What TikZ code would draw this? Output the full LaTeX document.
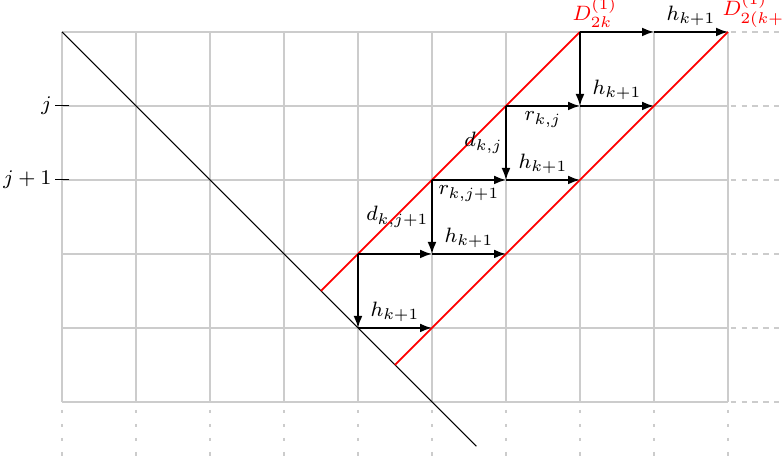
\documentclass[tikz,border=0pt]{standalone}
\usepackage{amsmath,amssymb}
\usepackage{xcolor}
\usetikzlibrary{arrows.meta,positioning,calc}

\begin{document}
\begin{tikzpicture}[
  >={Latex[length=4.6pt, width=3.4pt]},
  font=\footnotesize,
  grid/.style={black!20, line width=0.5pt},
  hext/.style={black!20, line width=0.5pt, dash pattern=on 2pt off 2.2pt, dash phase=-1pt},
  vext/.style={black!20, line width=0.5pt, dash pattern=on 1.4pt off 4pt, dash phase=-3pt},
  diag/.style={red, line width=0.7pt},
  arrow/.style={->, line width=0.65pt},
  every node/.style={inner sep=2pt}
]
\useasboundingbox (-0.838,-0.919) rectangle (9.730,5.432);
% lattice points
\foreach \x in {0,...,9}
  \foreach \y in {0,...,5}
    \coordinate (g\x\y) at (\x,\y);
% grid and its dashed continuation
\draw[grid] (0,0) grid (9,5);
\foreach \x in {0,...,9}
  \draw[vext] (g\x0) -- ++(0,-0.82);
\foreach \y in {0,...,5}
  \draw[hext] (g9\y) -- ++(0.75,0);
% row ticks
\draw (0.1,4) -- (-0.1,4) node[left, inner sep=1pt] (rj) {$j$};
\draw (0.1,3) -- (-0.1,3) node[left, inner sep=1pt] (rj1) {$j+1$};
% anti-diagonal
\draw (g05) -- (5.6,-0.6);
% red diagonals
\draw[diag] (3.5,1.5) -- (g75);
\draw[diag] (4.5,0.5) -- (g95);
\node[anchor=south west, inner sep=1.5pt, xshift=-4.5pt, text=red] (d1) at (g75) {$D^{(1)}_{2k}$};
\node[anchor=south west, inner sep=1.5pt, xshift=-3.8pt, text=red] (d2) at (g95) {$D^{(1)}_{2(k+1)}$};
% staircase
\draw[arrow] (g42) -- (g41);
\draw[arrow] (g41) -- node[above] {$h_{k+1}$} (g51);
\draw[arrow] (g42) -- (g52);
\draw[arrow] (g52) -- node[above] {$h_{k+1}$} (g62);
\draw[arrow] (g53) -- node[left, inner sep=1pt] {$d_{k,j+1}$} (g52);
\draw[arrow] (g53) -- node[below] {$r_{k,j+1}$} (g63);
\draw[arrow] (g63) -- node[above] {$h_{k+1}$} (g73);
\draw[arrow] (g64) -- node[left, inner sep=1pt] {$d_{k,j}$} (g63);
\draw[arrow] (g64) -- node[below] {$r_{k,j}$} (g74);
\draw[arrow] (g74) -- node[above] {$h_{k+1}$} (g84);
\draw[arrow] (g75) -- (g74);
\draw[arrow] (g75) -- (g85);
\draw[arrow] (g85) -- node[above] {$h_{k+1}$} (g95);
\end{tikzpicture}
\end{document}
